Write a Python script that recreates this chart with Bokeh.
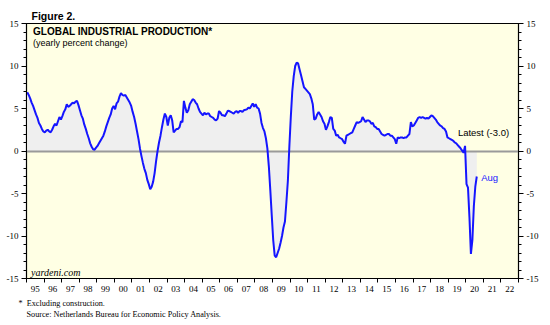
import pandas as pd
from bokeh.plotting import figure
from bokeh.models import (LinearAxis, FixedTicker, Label, Range1d, Title)
from bokeh.embed import file_html
from bokeh.resources import INLINE

# ---------------- data (yearly % change, monthly, Jan 1995 .. Aug 2020) ----------------
start = "1995-01-01"
ip_yoy = [
    6.9, 6.6, 6.2, 5.7, 5.3, 4.8, 4.3, 3.9, 3.3, 3.0, 2.6, 2.3,          # 1995
    2.2, 2.4, 2.5, 2.3, 2.2, 2.5, 2.9, 3.2, 3.0, 3.5, 4.0, 3.7,          # 1996
    4.1, 4.6, 4.9, 5.5, 5.2, 5.3, 5.5, 5.7, 5.6, 5.8, 5.9, 5.4,          # 1997
    4.8, 4.2, 3.8, 3.1, 2.6, 2.0, 1.5, 0.9, 0.5, 0.2, 0.15, 0.4,         # 1998
    0.6, 0.9, 1.2, 1.5, 1.8, 2.3, 2.9, 3.4, 3.9, 4.3, 5.0, 5.3,          # 1999
    4.9, 5.6, 5.8, 6.4, 6.8, 6.6, 6.5, 6.6, 6.3, 6.0, 5.7, 5.3,          # 2000
    4.6, 4.0, 3.2, 2.3, 1.4, 0.3, -0.6, -1.4, -2.1, -2.6, -3.4, -3.9,    # 2001
    -4.5, -4.2, -3.6, -2.6, -1.2, 0.0, 1.0, 1.8, 2.8, 3.7, 4.4, 4.0,     # 2002
    3.0, 3.9, 4.2, 3.6, 2.2, 2.4, 2.6, 2.6, 2.8, 3.5, 3.4, 5.9,          # 2003
    5.1, 4.5, 4.8, 5.5, 5.8, 6.1, 6.0, 5.7, 5.5, 5.0, 4.6, 4.4,          # 2004
    4.2, 4.5, 4.3, 4.4, 4.4, 4.1, 4.0, 3.9, 3.7, 3.6, 3.8, 4.7,          # 2005
    4.5, 4.2, 4.2, 4.1, 4.4, 4.75, 4.7, 4.6, 4.5, 4.4, 4.6, 4.7,         # 2006
    4.5, 4.7, 4.7, 4.6, 4.8, 4.85, 4.9, 5.1, 5.0, 5.3, 5.6, 5.2,         # 2007
    5.5, 5.1, 5.0, 4.4, 3.3, 2.7, 2.3, 1.5, 0.3, -1.8, -4.6, -7.6,       # 2008
    -10.5, -12.3, -12.5, -12.0, -11.5, -10.8, -10.0, -9.0, -8.3, -6.0, -3.5, 0.5,  # 2009
    4.0, 7.0, 8.8, 10.0, 10.4, 10.3, 9.6, 8.9, 8.2, 7.5, 7.3, 7.1,       # 2010
    6.9, 6.7, 6.2, 5.5, 3.7, 3.8, 4.3, 4.6, 4.3, 4.0, 3.5, 3.2,          # 2011
    2.5, 2.9, 3.4, 4.0, 3.9, 2.6, 2.4, 1.8, 1.9, 1.6, 1.5, 1.4,          # 2012
    1.1, 0.85, 1.8, 1.9, 2.0, 2.1, 2.2, 2.6, 3.0, 3.4, 3.3, 3.4,         # 2013
    3.5, 4.0, 3.7, 3.4, 3.6, 3.6, 3.5, 3.2, 3.3, 2.9, 2.8, 2.6,          # 2014
    2.6, 2.3, 2.0, 1.9, 1.8, 1.9, 2.0, 2.0, 1.8, 1.8, 1.6, 1.4,          # 2015
    0.85, 1.6, 1.5, 1.6, 1.6, 1.5, 1.6, 1.6, 1.8, 2.0, 3.4, 2.9,         # 2016
    3.0, 3.3, 3.6, 3.9, 4.0, 3.9, 4.0, 3.9, 3.8, 3.9, 3.8, 4.0,          # 2017
    4.2, 4.1, 3.9, 3.7, 3.4, 3.2, 3.0, 2.9, 2.7, 2.6, 2.3, 1.6,          # 2018
    1.5, 1.4, 1.3, 1.2, 1.0, 0.9, 0.7, 0.5, 0.3, 0.05, -0.2, 0.6,        # 2019
    -3.9, -4.3, -7.8, -12.1, -10.5, -6.5, -4.2, -3.0,                    # 2020 (to Aug)
]
x_year_bounds = list(range(1995, 2024))
x_tick_labels = ["95", "96", "97", "98", "99", "00", "01", "02", "03", "04",
                 "05", "06", "07", "08", "09", "10", "11", "12", "13", "14",
                 "15", "16", "17", "18", "19", "20", "21", "22"]
y_major = [-15, -10, -5, 0, 5, 10, 15]
y_tick_labels = ["-15", "-10", "-5", "0", "5", "10", "15"]
y_minor = list(range(-15, 16))

dates = pd.date_range(start, periods=len(ip_yoy), freq="MS")
xs = [d.year + (d.month - 0.5) / 12.0 for d in dates]   # mid-month positions

# ---------------- figure ----------------
BG = "#FFFFE4"
p = figure(width=550, height=325, output_backend="svg", toolbar_location=None,
           x_range=Range1d(1995, 2023), y_range=Range1d(-15, 15),
           min_border_left=26, min_border_right=32, min_border_top=23, min_border_bottom=47,
           x_axis_location=None, y_axis_location=None)
p.background_fill_color = BG
p.border_fill_color = "white"
p.outline_line_color = "black"
p.outline_line_width = 1.2
p.xgrid.visible = False
p.ygrid.visible = False

p.varea(x=xs, y1=0, y2=ip_yoy, fill_color="#EFEFEF", fill_alpha=1.0)
p.hspan(y=[0], line_color="#9A9A9A", line_width=2)
p.line(x=xs, y=ip_yoy, line_color="#1515FF", line_width=2)

# x axis: labels centred between year boundaries, ticks at boundaries
mid_years = [y + 0.5 for y in x_year_bounds[:-1]]
xax = LinearAxis(ticker=FixedTicker(ticks=mid_years, minor_ticks=x_year_bounds))
xax.major_label_overrides = {m: lab for m, lab in zip(mid_years, x_tick_labels)}
xax.major_tick_out = 0
xax.major_tick_in = 0
xax.minor_tick_out = 4
xax.minor_tick_in = 0
xax.minor_tick_line_color = "black"
xax.axis_line_color = "black"
xax.major_label_standoff = 3
xax.major_label_text_font = "Liberation Serif"
xax.major_label_text_font_size = "9px"
xax.major_label_text_color = "black"
p.add_layout(xax, "below")

for side in ("left", "right"):
    yax = LinearAxis(ticker=FixedTicker(ticks=y_major, minor_ticks=y_minor))
    yax.major_label_overrides = {t: lab for t, lab in zip(y_major, y_tick_labels)}
    yax.major_tick_out = 5
    yax.major_tick_in = 0
    yax.minor_tick_out = 3
    yax.minor_tick_in = 0
    yax.axis_line_color = "black"
    yax.major_tick_line_color = "black"
    yax.minor_tick_line_color = "black"
    yax.major_label_standoff = 3
    yax.major_label_text_font = "Liberation Serif"
    yax.major_label_text_font_size = "9px"
    yax.major_label_text_color = "black"
    p.add_layout(yax, side)

# titles outside the frame
p.add_layout(Title(text="Figure 2.", align="left", offset=5, standoff=4,
                   text_font="Liberation Sans", text_font_size="10.5px",
                   text_font_style="bold", text_color="black"), "above")
p.add_layout(Title(text="*\u00a0\u00a0Excluding construction.", align="left", offset=-8,
                   standoff=5, text_font="Liberation Serif", text_font_size="8.2px",
                   text_font_style="normal", text_color="black"), "below")
p.add_layout(Title(text="Source: Netherlands Bureau for Economic Policy Analysis.",
                   align="left", offset=0, standoff=-5, text_font="Liberation Serif",
                   text_font_size="8.2px", text_font_style="normal", text_color="black"), "below")

def add_text(x, y, text, size, font="Liberation Sans", style="normal", color="black", align="left"):
    p.add_layout(Label(x=x, y=y, text=text, text_font=font, text_font_size=size,
                       text_font_style=style, text_color=color, text_align=align,
                       text_baseline="middle"))

add_text(1995.37, 14.06, "GLOBAL INDUSTRIAL PRODUCTION*", "10px", style="bold")
add_text(1995.37, 12.65, "(yearly percent change)", "9px")
add_text(1995.26, -14.29, "yardeni.com", "10px", font="Liberation Serif", style="italic")
add_text(2019.55, 2.18, "Latest (-3.0)", "9.5px")
add_text(2020.88, -3.12, "Aug", "9.5px", color="#1515FF")

open("out.html", "w").write(file_html(p, INLINE))
